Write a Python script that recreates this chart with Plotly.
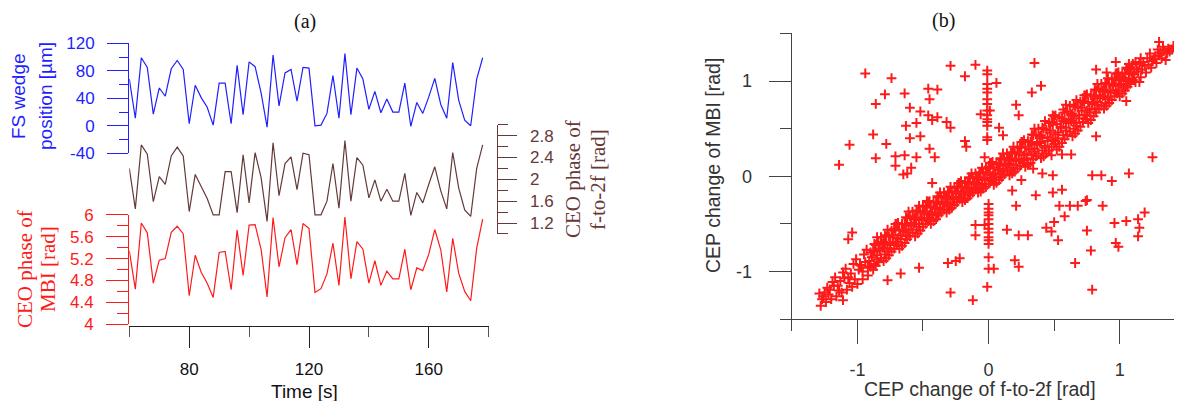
import plotly.graph_objects as go

# ---------------- data: panel (a) ----------------
time_s = [60, 62, 64, 66, 68, 70, 72, 74, 76, 78, 80, 82, 84, 86, 88, 90, 92, 94, 96, 98,
          100, 102, 104, 106, 108, 110, 112, 114, 116, 118, 120, 122, 124, 126, 128, 130, 132, 134, 136, 138,
          140, 142, 144, 146, 148, 150, 152, 154, 156, 158, 160, 162, 164, 166, 168, 170, 172, 174, 176, 178]
wedge_um = [68, 11, 99, 85, 17, 55, 43, 83, 95, 82, 3, 59, 41, 27, 1, 62, 62, 3, 88, 16,
            93, 86, 48, -2, 103, 29, 77, 82, 36, 85, 84, 0, 1, 18, 73, 11, 105, 16, 84, 68,
            24, 50, 19, 39, 20, 20, 62, -1, 34, 18, 42, 69, 31, 11, 92, 37, 8, 0, 68, 99]
ceo_f2f = [2.20, 1.46, 2.63, 2.46, 1.59, 2.05, 1.91, 2.43, 2.59, 2.43, 1.41, 2.09, 1.87, 1.65, 1.35, 1.35, 2.14, 2.14, 1.39, 2.45,
           1.57, 2.49, 2.03, 1.23, 2.67, 1.70, 2.29, 2.41, 1.81, 2.48, 2.45, 1.35, 1.35, 1.60, 2.29, 1.47, 2.71, 1.60, 2.40, 2.26,
           1.66, 1.99, 1.60, 1.82, 1.60, 1.60, 2.11, 1.34, 1.76, 1.57, 1.91, 2.23, 1.79, 1.46, 2.49, 1.84, 1.44, 1.32, 2.20, 2.63]
ceo_mbi = [5.34, 4.64, 5.85, 5.67, 4.75, 5.17, 5.20, 5.68, 5.79, 5.65, 4.52, 5.26, 4.95, 4.75, 4.49, 5.31, 5.33, 4.63, 5.72, 4.89,
           5.81, 5.82, 5.37, 4.50, 5.95, 5.05, 5.58, 5.73, 5.09, 5.84, 5.75, 4.58, 4.65, 4.92, 5.48, 4.71, 5.96, 4.83, 5.51, 5.37,
           4.75, 5.16, 4.71, 4.97, 4.83, 4.83, 5.37, 4.63, 5.03, 4.98, 5.28, 5.73, 5.36, 4.59, 5.57, 4.93, 4.60, 4.43, 5.39, 5.92]
wedge_ticks = [-40, 0, 40, 80, 120]
wedge_ticktext = ["-40", "0", "40", "80", "120"]

# ---------------- data: panel (b) ----------------
# main correlated band
band_pts = [
    (-1.28, -1.36), (-1.27, -1.29), (-1.29, -1.23), (-1.24, -1.32), (-1.25, -1.22), (-1.23, -1.17),
    (-1.20, -1.29), (-1.21, -1.19), (-1.19, -1.11), (-1.16, -1.26), (-1.15, -1.15), (-1.17, -1.06),
    (-1.12, -1.22), (-1.13, -1.10), (-1.11, -1.01), (-1.08, -1.19), (-1.07, -1.06), (-1.09, -0.97),
    (-1.04, -1.16), (-1.05, -1.02), (-1.03, -0.92), (-1.00, -1.13), (-0.99, -0.98), (-1.01, -0.87),
    (-0.96, -1.08), (-0.97, -0.94), (-0.95, -0.82), (-0.96, -1.00), (-0.92, -1.04), (-0.91, -0.89),
    (-0.93, -0.77), (-0.92, -0.96),
    (-1.26, -1.26), (-1.22, -1.24), (-1.18, -1.15), (-1.14, -1.20), (-1.10, -1.07), (-1.06, -1.12),
    (-1.02, -1.08), (-0.98, -0.93), (-0.94, -0.90), (-0.90, -0.95), (-0.90, -0.80),
    (-0.88, -0.98), (-0.87, -0.92), (-0.89, -0.85), (-0.88, -0.78), (-0.87, -0.71),
    (-0.84, -0.90), (-0.85, -0.83), (-0.83, -0.76), (-0.84, -0.69), (-0.85, -0.64),
    (-0.80, -0.89), (-0.79, -0.82), (-0.81, -0.75), (-0.80, -0.69), (-0.79, -0.62),
    (-0.76, -0.83), (-0.77, -0.76), (-0.75, -0.70), (-0.76, -0.63), (-0.77, -0.56),
    (-0.72, -0.76), (-0.71, -0.69), (-0.73, -0.62), (-0.72, -0.55), (-0.71, -0.50),
    (-0.68, -0.76), (-0.69, -0.69), (-0.67, -0.62), (-0.68, -0.56), (-0.69, -0.49),
    (-0.64, -0.70), (-0.63, -0.63), (-0.65, -0.56), (-0.64, -0.50), (-0.63, -0.43),
    (-0.60, -0.63), (-0.61, -0.56), (-0.59, -0.49), (-0.60, -0.42), (-0.61, -0.37),
    (-0.56, -0.63), (-0.55, -0.56), (-0.57, -0.50), (-0.56, -0.43), (-0.55, -0.36),
    (-0.52, -0.57), (-0.53, -0.50), (-0.51, -0.44), (-0.52, -0.38), (-0.53, -0.31),
    (-0.48, -0.50), (-0.47, -0.44), (-0.49, -0.37), (-0.48, -0.31), (-0.47, -0.26),
    (-0.44, -0.50), (-0.45, -0.44), (-0.43, -0.38), (-0.44, -0.32), (-0.45, -0.26),
    (-0.40, -0.45), (-0.39, -0.39), (-0.41, -0.33), (-0.40, -0.27), (-0.39, -0.21),
    (-0.36, -0.38), (-0.37, -0.33), (-0.35, -0.27), (-0.36, -0.21), (-0.37, -0.17),
    (-0.32, -0.38), (-0.31, -0.32), (-0.33, -0.27), (-0.32, -0.21), (-0.31, -0.16),
    (-0.28, -0.33), (-0.29, -0.28), (-0.27, -0.22), (-0.28, -0.17), (-0.29, -0.11),
    (-0.24, -0.27), (-0.23, -0.22), (-0.25, -0.16), (-0.24, -0.11), (-0.23, -0.07),
    (-0.20, -0.27), (-0.21, -0.22), (-0.19, -0.16), (-0.20, -0.11), (-0.21, -0.05),
    (-0.16, -0.23), (-0.15, -0.17), (-0.17, -0.12), (-0.16, -0.06), (-0.15, -0.01),
    (-0.12, -0.17), (-0.13, -0.12), (-0.11, -0.06), (-0.12, -0.01), (-0.13, 0.03),
    (-0.08, -0.17), (-0.07, -0.12), (-0.09, -0.07), (-0.08, -0.01), (-0.07, 0.04),
    (-0.04, -0.13), (-0.05, -0.08), (-0.03, -0.02), (-0.04, 0.04), (-0.05, 0.09),
    (0.00, -0.08), (0.01, -0.02), (-0.01, 0.04), (0.00, 0.10), (0.01, 0.14),
    (0.04, -0.09), (0.03, -0.03), (0.05, 0.03), (0.04, 0.09), (0.03, 0.15),
    (0.08, -0.04), (0.09, 0.02), (0.07, 0.07), (0.08, 0.13), (0.09, 0.19),
    (0.12, 0.02), (0.11, 0.08), (0.13, 0.13), (0.12, 0.19), (0.11, 0.24),
    (0.16, 0.01), (0.17, 0.07), (0.15, 0.13), (0.16, 0.19), (0.17, 0.25),
    (0.20, 0.05), (0.19, 0.12), (0.21, 0.18), (0.20, 0.24), (0.19, 0.31),
    (0.24, 0.11), (0.25, 0.18), (0.23, 0.25), (0.24, 0.31), (0.25, 0.36),
    (0.28, 0.10), (0.27, 0.17), (0.29, 0.24), (0.28, 0.31), (0.27, 0.38),
    (0.32, 0.14), (0.33, 0.22), (0.31, 0.29), (0.32, 0.36), (0.33, 0.44),
    (0.36, 0.21), (0.35, 0.29), (0.37, 0.36), (0.36, 0.44), (0.35, 0.50),
    (0.40, 0.19), (0.41, 0.27), (0.39, 0.35), (0.40, 0.43), (0.41, 0.51),
    (0.44, 0.24), (0.43, 0.32), (0.45, 0.41), (0.44, 0.49), (0.43, 0.58),
    (0.48, 0.31), (0.49, 0.39), (0.47, 0.48), (0.48, 0.57), (0.49, 0.64),
    (0.52, 0.28), (0.51, 0.37), (0.53, 0.46), (0.52, 0.55), (0.51, 0.64),
    (0.56, 0.35), (0.57, 0.43), (0.55, 0.52), (0.56, 0.61), (0.57, 0.70),
    (0.60, 0.43), (0.59, 0.51), (0.61, 0.60), (0.60, 0.68), (0.59, 0.75),
    (0.64, 0.42), (0.65, 0.50), (0.63, 0.58), (0.64, 0.66), (0.65, 0.75),
    (0.68, 0.48), (0.67, 0.56), (0.69, 0.64), (0.68, 0.72), (0.67, 0.80),
    (0.72, 0.57), (0.73, 0.64), (0.71, 0.72), (0.72, 0.79), (0.73, 0.85),
    (0.76, 0.56), (0.75, 0.64), (0.77, 0.71), (0.76, 0.78), (0.75, 0.86),
    (0.80, 0.63), (0.81, 0.70), (0.79, 0.77), (0.80, 0.84), (0.81, 0.91),
    (0.84, 0.71), (0.83, 0.78), (0.85, 0.85), (0.84, 0.92), (0.83, 0.97),
    (0.88, 0.71), (0.89, 0.77), (0.87, 0.84), (0.88, 0.91), (0.89, 0.98),
    (0.92, 0.77), (0.91, 0.83), (0.93, 0.90), (0.92, 0.97), (0.91, 1.03),
    (0.96, 0.84), (0.97, 0.90), (0.95, 0.97), (0.96, 1.03), (0.97, 1.08),
    (1.00, 0.84), (0.99, 0.90), (1.01, 0.97), (1.00, 1.03), (0.99, 1.09),
    (1.04, 0.90), (1.05, 0.96), (1.03, 1.02), (1.04, 1.08), (1.05, 1.14),
    (1.08, 0.97), (1.07, 1.03), (1.09, 1.09), (1.08, 1.14), (1.07, 1.18),
    (-0.86, -0.94), (-0.85, -0.87), (-0.87, -0.79), (-0.86, -0.72),
    (-0.82, -0.86), (-0.83, -0.78), (-0.81, -0.71), (-0.82, -0.64),
    (-0.78, -0.86), (-0.77, -0.79), (-0.79, -0.71), (-0.78, -0.63),
    (-0.74, -0.79), (-0.75, -0.72), (-0.73, -0.64), (-0.74, -0.57),
    (-0.70, -0.72), (-0.69, -0.65), (-0.71, -0.57), (-0.70, -0.50),
    (-0.66, -0.73), (-0.67, -0.66), (-0.65, -0.58), (-0.66, -0.50),
    (-0.62, -0.66), (-0.61, -0.59), (-0.63, -0.51), (-0.62, -0.44),
    (-0.58, -0.59), (-0.59, -0.52), (-0.57, -0.44), (-0.58, -0.37),
    (-0.54, -0.60), (-0.53, -0.53), (-0.55, -0.45), (-0.54, -0.37),
    (-0.50, -0.53), (-0.51, -0.46), (-0.49, -0.39), (-0.50, -0.32),
    (-0.46, -0.47), (-0.45, -0.40), (-0.47, -0.33), (-0.46, -0.27),
    (-0.42, -0.47), (-0.43, -0.41), (-0.41, -0.34), (-0.42, -0.27),
    (-0.38, -0.41), (-0.37, -0.35), (-0.39, -0.29), (-0.38, -0.22),
    (-0.34, -0.35), (-0.35, -0.29), (-0.33, -0.23), (-0.34, -0.17),
    (-0.30, -0.35), (-0.29, -0.30), (-0.31, -0.23), (-0.30, -0.17),
    (-0.26, -0.30), (-0.27, -0.24), (-0.25, -0.18), (-0.26, -0.12),
    (-0.22, -0.24), (-0.21, -0.18), (-0.23, -0.12), (-0.22, -0.07),
    (-0.18, -0.25), (-0.19, -0.19), (-0.17, -0.13), (-0.18, -0.06),
    (-0.14, -0.20), (-0.13, -0.14), (-0.15, -0.08), (-0.14, -0.02),
    (-0.10, -0.14), (-0.11, -0.08), (-0.09, -0.02), (-0.10, 0.03),
    (-0.06, -0.16), (-0.05, -0.10), (-0.07, -0.03), (-0.06, 0.04),
    (-0.02, -0.11), (-0.03, -0.04), (-0.01, 0.02), (-0.02, 0.08),
    (0.02, -0.05), (0.03, 0.01), (0.01, 0.08), (0.02, 0.14),
    (0.06, -0.07), (0.05, -0.01), (0.07, 0.07), (0.06, 0.14),
    (0.10, -0.01), (0.11, 0.05), (0.09, 0.12), (0.10, 0.18),
    (0.14, 0.05), (0.13, 0.11), (0.15, 0.18), (0.14, 0.24),
    (0.18, 0.03), (0.19, 0.09), (0.17, 0.17), (0.18, 0.25),
    (0.22, 0.08), (0.21, 0.16), (0.23, 0.23), (0.22, 0.30),
    (0.26, 0.14), (0.27, 0.22), (0.25, 0.30), (0.26, 0.36),
    (0.30, 0.12), (0.29, 0.19), (0.31, 0.28), (0.30, 0.37),
    (0.34, 0.18), (0.35, 0.26), (0.33, 0.34), (0.34, 0.43),
    (0.38, 0.24), (0.37, 0.33), (0.39, 0.42), (0.38, 0.50),
    (0.42, 0.21), (0.43, 0.30), (0.41, 0.40), (0.42, 0.50),
    (0.46, 0.27), (0.45, 0.37), (0.47, 0.46), (0.46, 0.56),
    (0.50, 0.34), (0.51, 0.44), (0.49, 0.54), (0.50, 0.63),
    (0.54, 0.31), (0.53, 0.40), (0.55, 0.51), (0.54, 0.62),
    (0.58, 0.39), (0.59, 0.48), (0.57, 0.58), (0.58, 0.67),
    (0.62, 0.47), (0.61, 0.56), (0.63, 0.65), (0.62, 0.74),
    (0.66, 0.45), (0.67, 0.53), (0.65, 0.63), (0.66, 0.73),
    (0.70, 0.52), (0.69, 0.61), (0.71, 0.69), (0.70, 0.78),
    (0.74, 0.60), (0.75, 0.69), (0.73, 0.77), (0.74, 0.85),
    (0.78, 0.59), (0.77, 0.67), (0.79, 0.76), (0.78, 0.85),
    (0.82, 0.67), (0.83, 0.75), (0.81, 0.82), (0.82, 0.90),
    (0.86, 0.74), (0.85, 0.82), (0.87, 0.90), (0.86, 0.97),
    (0.90, 0.74), (0.91, 0.81), (0.89, 0.89), (0.90, 0.97),
    (0.94, 0.80), (0.93, 0.88), (0.95, 0.95), (0.94, 1.02),
    (0.98, 0.87), (0.99, 0.95), (0.97, 1.02), (0.98, 1.08),
    (1.02, 0.87), (1.03, 0.93), (1.01, 1.01), (1.02, 1.08),
    (1.06, 0.94), (1.05, 1.00), (1.07, 1.07), (1.06, 1.13),
    (1.10, 1.01), (1.11, 1.07), (1.09, 1.13), (1.10, 1.18),
    (1.12, 0.99), (1.11, 1.07), (1.13, 1.13), (1.12, 1.20),
    (1.16, 1.04), (1.17, 1.12), (1.15, 1.18), (1.16, 1.24),
    (1.20, 1.09), (1.19, 1.16), (1.21, 1.24),
    (1.24, 1.14), (1.25, 1.21), (1.23, 1.29),
    (1.28, 1.19), (1.27, 1.26), (1.29, 1.33),
    (1.32, 1.24), (1.31, 1.30), (1.33, 1.36),
    (1.36, 1.29), (1.37, 1.34), (1.40, 1.33), (1.41, 1.37), (1.30, 1.41), (1.42, 1.36),
    (1.14, 1.10), (1.18, 1.20), (1.22, 1.17), (1.26, 1.23), (1.30, 1.27), (1.34, 1.32), (1.38, 1.31),
]
# scattered off-band points
outlier_pts = [
    (-1.14, 0.12), (-1.06, 0.33), (-0.94, 1.08), (-0.88, 0.44), (-0.86, 0.76), (-0.86, 0.19),
    (-0.79, 0.86), (-0.78, 0.34), (-0.74, 1.03), (-0.71, 0.21), (-0.71, 0.11), (-0.64, 0.87),
    (-0.64, 0.22), (-0.65, 0.02), (-0.63, 0.53), (-0.60, 0.72), (-0.60, 0.40), (-0.62, 0.03),
    (-0.59, 0.09), (-0.55, 0.56), (-0.55, 0.20), (-0.52, 0.68), (-0.52, 0.42), (-0.46, 0.92),
    (-0.45, 0.81), (-0.45, 0.29), (-0.46, 0.64), (-0.43, -0.07), (-0.41, 0.20), (-0.43, 0.59),
    (-0.39, 0.91), (-0.39, 0.62), (-0.32, 0.57), (-0.29, 1.16), (-0.29, 0.51), (-0.18, 1.05),
    (-0.18, 0.37), (-0.17, 0.31), (-0.10, 1.17), (-0.03, 0.20), (-0.06, 0.65),
    (-0.01, 1.11), (-0.01, 1.07), (-0.01, 0.97), (-0.01, 0.92), (-0.01, 0.88), (-0.01, 0.81),
    (-0.01, 0.76), (-0.01, 0.69), (-0.01, 0.64), (-0.01, 0.60), (-0.01, 0.57), (-0.01, 0.53),
    (-0.01, 0.41), (-0.01, 0.38), (0.01, 0.69), (0.06, 0.98), (0.08, 0.51), (0.11, 0.43),
    (0.23, 0.64), (0.21, 0.75), (0.33, 0.88), (0.35, 1.19), (0.40, 0.95), (0.82, 0.42),
    (1.05, 0.79), (1.15, 0.99), (1.25, 0.20), (1.07, 0.03), (0.94, -0.05), (0.86, 0.01),
    (0.79, 0.01), (0.49, 0.01), (0.41, 0.03), (0.48, 0.22), (0.56, 0.23), (0.63, 0.23),
    (0.34, 0.08), (0.25, -0.04), (0.18, -0.15), (0.36, -0.20), (0.49, -0.17), (0.56, -0.14),
    (0.75, -0.25), (0.82, 1.12), (0.90, 1.09), (0.97, 1.20), (1.35, 1.22),
    (1.19, -0.38), (1.14, -0.45), (1.05, -0.47), (0.96, -0.49), (1.14, -0.63), (1.15, -0.54),
    (0.97, -0.70), (0.99, -0.74), (0.75, -0.57), (0.78, -0.78), (0.79, -1.19), (0.66, -0.91),
    (0.53, -0.67), (0.48, -0.58), (0.44, -0.54), (0.50, -0.48), (0.58, -0.42), (0.54, -0.31),
    (0.62, -0.31), (0.68, -0.31), (0.87, -0.31), (0.74, -0.26), (0.23, -0.62), (0.30, -0.62),
    (0.20, -0.88), (0.23, -0.95), (0.21, -0.31),
    (0.00, -0.29), (0.00, -0.34), (0.00, -0.38), (0.00, -0.41), (0.00, -0.45), (0.00, -0.50),
    (0.00, -0.55), (0.00, -0.59), (0.00, -0.64), (0.00, -0.67), (0.00, -0.71), (0.00, -0.85),
    (0.00, -0.97), (-0.01, -1.16), (0.04, -0.97), (-0.12, -1.30), (-0.29, -1.22), (-0.31, -0.91),
    (-0.25, -0.89), (-0.22, -0.86), (-0.10, -0.51), (-0.03, -0.51), (-0.10, -0.62), (0.14, -0.56),
    (-0.53, -0.96), (-0.67, -1.02), (-0.77, -1.09), (-1.11, -1.30), (-1.07, -0.66), (-1.04, -0.59),
]
cep_f2f = [p[0] for p in band_pts + outlier_pts]
cep_mbi = [p[1] for p in band_pts + outlier_pts]
cep_ticks = [-1, 0, 1]
cep_ticktext = ["-1", "0", "1"]

# ---------------- style ----------------
W, H = 1182, 401
OX, OY = 8, 8            # page body margin offset of the plot div
FW, FH = W - OX, H - OY  # figure size so it exactly fills the window
BLUE = "#1f1fff"
BROWN = "#663838"
RED = "#ff1a1a"
GRAY = "#333333"
SANS = "Liberation Sans, Arial, sans-serif"
SERIF = "Liberation Serif, Times New Roman, serif"


def px_x(p):
    return (p - OX) / FW


def px_y(p):
    return 1 - (p - OY) / FH


fig = go.Figure()
fig.add_trace(go.Scatter(x=time_s, y=wedge_um, mode="lines", line=dict(color=BLUE, width=1.2),
                         xaxis="x", yaxis="y", showlegend=False))
fig.add_trace(go.Scatter(x=time_s, y=ceo_f2f, mode="lines", line=dict(color=BROWN, width=1.2),
                         xaxis="x", yaxis="y2", showlegend=False))
fig.add_trace(go.Scatter(x=time_s, y=ceo_mbi, mode="lines", line=dict(color=RED, width=1.2),
                         xaxis="x", yaxis="y3", showlegend=False))
fig.add_trace(go.Scatter(x=cep_f2f, y=cep_mbi, mode="markers",
                         marker=dict(symbol="cross-thin", size=7, color=RED,
                                     line=dict(color=RED, width=2)),
                         xaxis="x2", yaxis="y4", showlegend=False))


def tf(c, s=17):
    return dict(family=SANS, size=s, color=c)


left_axis_x = 128.0
common = dict(showgrid=False, zeroline=False, showline=True, automargin=False)

fig.update_layout(
    width=FW, height=FH, autosize=False,
    margin=dict(l=0, r=0, t=0, b=0, pad=0, autoexpand=False),
    paper_bgcolor="white", plot_bgcolor="rgba(0,0,0,0)",
    xaxis=dict(domain=[px_x(129.3), px_x(488.7)], range=[59.99, 180.01], anchor="free",
               position=px_y(325.7), linecolor="#222", linewidth=1,
               tickmode="linear", tick0=80, dtick=40, ticks="outside", ticklen=21,
               tickcolor="#222", tickwidth=1, ticklabelstandoff=7,
               tickfont=tf("#111", 17),
               minor=dict(dtick=20, tick0=60, ticks="outside", ticklen=10, tickcolor="#555", tickwidth=1),
               **common),
    yaxis=dict(domain=[px_y(153.3), px_y(43.3)], range=[-40.05, 120.05], anchor="free",
               position=px_x(left_axis_x), linecolor=BLUE, linewidth=1,
               tickmode="array", tickvals=wedge_ticks, ticktext=wedge_ticktext,
               ticks="outside", ticklen=21, tickcolor=BLUE, ticklabelstandoff=9,
               tickfont=tf(BLUE),
               minor=dict(dtick=20, tick0=-40, ticks="outside", ticklen=9, tickcolor=BLUE),
               **common),
    yaxis2=dict(domain=[px_y(234.0), px_y(124.7)], range=[0.999, 3.001], anchor="free",
                position=px_x(496.7), side="right", linecolor=BROWN, linewidth=1,
                tickmode="linear", tick0=1.2, dtick=0.4,
                ticks="outside", ticklen=19, tickcolor=BROWN, ticklabelstandoff=10,
                tickfont=tf(BROWN),
                minor=dict(dtick=0.2, tick0=1.0, ticks="outside", ticklen=10, tickcolor=BROWN),
                **common),
    yaxis3=dict(domain=[px_y(324.3), px_y(214.7)], range=[3.999, 6.001], anchor="free",
                position=px_x(left_axis_x), linecolor=RED, linewidth=1,
                tickmode="linear", tick0=4, dtick=0.4,
                ticks="outside", ticklen=22, tickcolor=RED, ticklabelstandoff=9,
                tickfont=tf(RED),
                minor=dict(dtick=0.2, tick0=4, ticks="outside", ticklen=11, tickcolor=RED),
                **common),
    xaxis2=dict(domain=[px_x(791.7), 1.0], range=[-1.501, -1.5 + (W - 791.7) / 131.2], anchor="y4",
                linecolor="#444", linewidth=1,
                tickmode="array", tickvals=cep_ticks, ticktext=cep_ticktext,
                ticks="outside", ticklen=24, tickcolor="#444", ticklabelstandoff=10,
                tickfont=tf(GRAY, 18),
                minor=dict(tickmode="array", tickvals=[-1.5, -0.5, 0.5], ticks="outside",
                           ticklen=11, tickcolor="#444"),
                **common),
    yaxis4=dict(domain=[px_y(319.3), px_y(33.3)], range=[-1.501, 1.501], anchor="x2",
                linecolor="#444", linewidth=1,
                tickmode="array", tickvals=cep_ticks, ticktext=cep_ticktext,
                ticks="outside", ticklen=22, tickcolor="#444", ticklabelstandoff=13,
                tickfont=tf(GRAY, 18),
                minor=dict(tickmode="array", tickvals=[-1.5, -0.5, 0.5, 1.5], ticks="outside",
                           ticklen=11, tickcolor="#444"),
                **common),
)


def ann(text, x, y, font, angle=0):
    fig.add_annotation(text=text, x=px_x(x), y=px_y(y), xref="paper", yref="paper",
                       showarrow=False, xanchor="center", yanchor="middle",
                       textangle=angle, font=font)


ann("(a)", 305, 21, dict(family=SERIF, size=20, color="#111"))
ann("(b)", 943, 20, dict(family=SERIF, size=20, color="#111"))
ann("FS wedge", 18, 96, dict(family=SANS, size=19, color=BLUE), -90)
ann("position [µm]", 45, 96, dict(family=SANS, size=19, color=BLUE), -90)
ann("CEO phase of", 25, 269, dict(family=SERIF, size=21, color=RED), -90)
ann("MBI [rad]", 48, 269, dict(family=SERIF, size=21, color=RED), -90)
ann("CEO phase of", 573, 179, dict(family=SERIF, size=21, color=BROWN), -90)
ann("f-to-2f [rad]", 598, 179, dict(family=SERIF, size=21, color=BROWN), -90)
ann("Time [s]", 305, 391, dict(family=SANS, size=19, color="#111"))
ann("CEP change of f-to-2f [rad]", 980, 389, dict(family=SANS, size=19.5, color=GRAY))
ann("CEP change of MBI [rad]", 713, 166, dict(family=SANS, size=19.5, color=GRAY), -90)

fig.write_html("out.html")
